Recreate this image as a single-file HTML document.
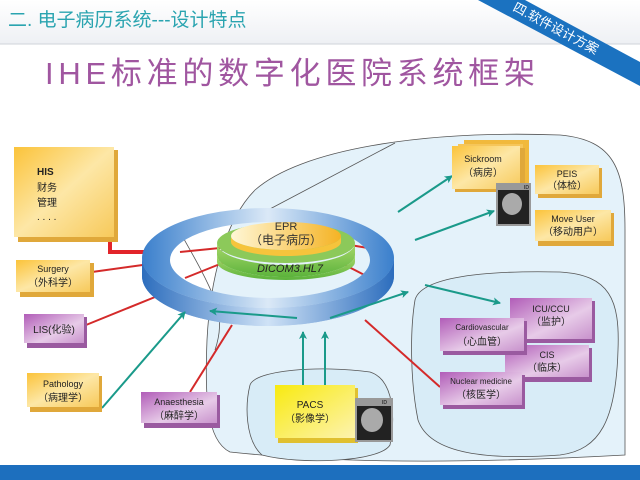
<!DOCTYPE html>
<html><head><meta charset="utf-8"><style>
html,body{margin:0;padding:0;width:640px;height:480px;overflow:hidden;background:#fff}
text{font-family:"Liberation Sans","Noto Sans CJK SC",sans-serif}
</style></head><body>
<svg width="640" height="480" viewBox="0 0 640 480" xmlns="http://www.w3.org/2000/svg">
<defs>
<linearGradient id="hdr" x1="0" y1="0" x2="0" y2="1"><stop offset="0" stop-color="#fff"/><stop offset="1" stop-color="#eef0f4"/></linearGradient>
<linearGradient id="yel" x1="0" y1="0" x2="1" y2="1"><stop offset="0" stop-color="#fbc33a"/><stop offset="0.5" stop-color="#fde7a6"/><stop offset="1" stop-color="#f7c95a"/></linearGradient>
<linearGradient id="pur" x1="0" y1="0" x2="1" y2="1"><stop offset="0" stop-color="#b15db8"/><stop offset="0.6" stop-color="#e7cbe8"/><stop offset="1" stop-color="#c892cc"/></linearGradient>
<linearGradient id="pacs" x1="0" y1="0" x2="1" y2="1"><stop offset="0" stop-color="#f8ea10"/><stop offset="1" stop-color="#fdf3b0"/></linearGradient>
<linearGradient id="ring" x1="0" y1="0" x2="1" y2="0"><stop offset="0" stop-color="#3a7fcc"/><stop offset="0.5" stop-color="#dbe9f7"/><stop offset="1" stop-color="#3a7fcc"/></linearGradient>
<linearGradient id="ringside" x1="0" y1="0" x2="1" y2="0"><stop offset="0" stop-color="#2c6dbd"/><stop offset="0.5" stop-color="#cfe2f6"/><stop offset="1" stop-color="#2c6dbd"/></linearGradient>
<linearGradient id="grn" x1="0" y1="0" x2="0" y2="1"><stop offset="0" stop-color="#a8d86a"/><stop offset="1" stop-color="#5cb33c"/></linearGradient>
<linearGradient id="yt" x1="0" y1="0" x2="1" y2="0"><stop offset="0" stop-color="#fff7d6"/><stop offset="1" stop-color="#f5b324"/></linearGradient>
<marker id="ar" markerWidth="8" markerHeight="8" refX="7" refY="4" orient="auto" markerUnits="userSpaceOnUse"><path d="M0,0 L8,4 L0,8 L2,4 z" fill="#1a9a8a"/></marker>
</defs>
<rect width="640" height="44" fill="url(#hdr)"/>
<line x1="0" y1="44" x2="640" y2="44" stroke="#cfd3da"/>
<text x="8" y="26" font-size="19" fill="#2aa4b0">二. 电子病历系统---设计特点</text>
<polygon points="478,0 525,0 640,62 640,86" fill="#1b72c0"/>
<text x="0" y="0" font-size="13" fill="#fff" transform="translate(512,10) rotate(28)">四.软件设计方案</text>
<text x="45" y="84" font-size="31" fill="#a056a0" textLength="490" lengthAdjust="spacing">IHE标准的数字化医院系统框架</text>

<!-- background regions -->
<path d="M255,190 C300,150 420,130 560,135 C615,140 625,170 625,230 L625,455 C500,462 350,465 230,452 C205,440 205,390 207,340 C210,280 225,220 255,190 Z" fill="#e4f2fa" stroke="#555" stroke-width="0.8"/>
<path d="M415,300 C420,280 470,270 560,272 C610,275 620,300 618,350 C616,420 600,450 560,455 C490,460 430,455 418,420 C410,380 410,330 415,300 Z" fill="#d8ecf7" stroke="#555" stroke-width="0.8"/>
<path d="M250,385 C255,370 320,365 370,372 C395,380 395,420 390,445 C380,462 300,465 262,455 C245,440 245,405 250,385 Z" fill="#d8ecf7" stroke="#555" stroke-width="0.8"/>
<path d="M180,232 C190,250 205,275 215,300 C222,320 220,335 215,350" fill="none" stroke="#555" stroke-width="0.8"/>
<line x1="268" y1="210" x2="395" y2="143" stroke="#555" stroke-width="0.8"/>

<!-- red lines -->
<path d="M110,240 L110,252 L150,252" fill="none" stroke="#e2242a" stroke-width="4"/>
<g stroke="#d42a2a" stroke-width="2" fill="none">
<line x1="92" y1="272" x2="150" y2="264"/>
<line x1="86" y1="325" x2="160" y2="295"/>
<line x1="190" y1="392" x2="232" y2="325"/>
<line x1="440" y1="387" x2="365" y2="320"/>
<line x1="180" y1="252" x2="220" y2="248"/>
<line x1="185" y1="278" x2="225" y2="262"/>
<line x1="350" y1="245" x2="380" y2="250"/>
<line x1="345" y1="265" x2="378" y2="282"/>
</g>

<!-- ring -->
<path d="M142,258 A126,50 0 0 0 394,258 L394,276 A126,50 0 0 1 142,276 Z" fill="url(#ringside)"/>
<path d="M142,258 A126,50 0 1 1 394,258 A126,50 0 1 1 142,258 Z M170,260 A100,38 0 1 0 370,260 A100,38 0 1 0 170,260 Z" fill="url(#ring)" fill-rule="evenodd"/>
<path d="M142,258 A126,50 0 0 0 394,258 L394,276 A126,50 0 0 1 142,276 Z" fill="url(#ringside)" opacity="0.9"/>

<!-- EPR disc -->
<path d="M217,243 A69,22 0 0 0 355,243 L355,255 A69,22 0 0 1 217,255 Z" fill="url(#grn)"/>
<path d="M217,255 A69,22 0 0 0 355,255 L355,262 A69,18 0 0 1 217,262 Z" fill="url(#grn)"/>
<ellipse cx="286" cy="243" rx="69" ry="20" fill="#8cc95a"/>
<path d="M231,236 A55,14 0 0 0 341,236 L341,242 A55,14 0 0 1 231,242 Z" fill="#f6c43c"/>
<ellipse cx="286" cy="236" rx="55" ry="14" fill="url(#yt)"/>
<text x="286" y="230" font-size="11" text-anchor="middle" fill="#333">EPR</text>
<text x="286" y="244" font-size="12" text-anchor="middle" fill="#333">（电子病历）</text>
<text x="290" y="272" font-size="11" text-anchor="middle" fill="#222" font-style="italic">DICOM3.HL7</text>

<!-- teal arrows -->
<g stroke="#1a9a8a" stroke-width="2" fill="none" marker-end="url(#ar)">
<line x1="102" y1="408" x2="185" y2="312"/>
<line x1="398" y1="212" x2="452" y2="176"/>
<line x1="415" y1="240" x2="494" y2="211"/>
<line x1="425" y1="285" x2="500" y2="303"/>
<line x1="303" y1="385" x2="303" y2="332"/>
<line x1="325" y1="385" x2="325" y2="332"/>
<line x1="297" y1="318" x2="210" y2="311"/>
<line x1="330" y1="318" x2="408" y2="292"/>
</g>

<!-- boxes -->
<g stroke="none">
<rect x="18" y="150" width="100" height="92" fill="#e0a83a"/><rect x="14" y="147" width="100" height="90" fill="url(#yel)"/>
<rect x="20" y="263" width="74" height="34" fill="#e0a83a"/><rect x="16" y="260" width="74" height="32" fill="url(#yel)"/>
<rect x="27" y="317" width="60" height="31" fill="#9a5aa0"/><rect x="24" y="314" width="60" height="29" fill="url(#pur)"/>
<rect x="30" y="376" width="72" height="36" fill="#e0a83a"/><rect x="27" y="373" width="72" height="34" fill="url(#yel)"/>
<rect x="144" y="395" width="76" height="33" fill="#9a5aa0"/><rect x="141" y="392" width="76" height="31" fill="url(#pur)"/>
<rect x="278" y="388" width="80" height="55" fill="#e0c030"/><rect x="275" y="385" width="80" height="53" fill="url(#pacs)"/>
<rect x="464" y="140" width="65" height="45" fill="#f1b93c"/><rect x="458" y="144" width="65" height="45" fill="#f6c65a"/>
<rect x="455" y="148" width="70" height="44" fill="#e0a83a"/><rect x="452" y="146" width="68" height="43" fill="url(#yel)"/>
<rect x="538" y="168" width="64" height="30" fill="#e0a83a"/><rect x="535" y="165" width="64" height="29" fill="url(#yel)"/>
<rect x="538" y="213" width="76" height="33" fill="#e0a83a"/><rect x="535" y="210" width="76" height="31" fill="url(#yel)"/>
<rect x="513" y="301" width="82" height="42" fill="#9a5aa0"/><rect x="510" y="298" width="82" height="41" fill="url(#pur)"/>
<rect x="508" y="348" width="84" height="34" fill="#9a5aa0"/><rect x="505" y="345" width="84" height="32" fill="url(#pur)"/>
<rect x="443" y="321" width="84" height="34" fill="#9a5aa0"/><rect x="440" y="318" width="84" height="33" fill="url(#pur)"/>
<rect x="443" y="375" width="82" height="34" fill="#9a5aa0"/><rect x="440" y="372" width="82" height="33" fill="url(#pur)"/>
</g>
<!-- images -->
<rect x="496" y="183" width="35" height="43" fill="#999"/><rect x="498" y="190" width="31" height="34" fill="#222"/><ellipse cx="512" cy="204" rx="10" ry="11" fill="#aaa"/>
<text x="524" y="189" font-size="5" fill="#000">ID</text>
<rect x="355" y="398" width="38" height="44" fill="#999"/><rect x="357" y="406" width="34" height="34" fill="#222"/><ellipse cx="372" cy="420" rx="11" ry="12" fill="#aaa"/>
<text x="382" y="404" font-size="5" fill="#000">ID</text>

<g font-size="9" fill="#222" text-anchor="middle">
<text x="37" y="175" font-size="10" font-weight="bold" text-anchor="start">HIS</text>
<text x="37" y="191" font-size="10" text-anchor="start">财务</text>
<text x="37" y="206" font-size="10" text-anchor="start">管理</text>
<text x="37" y="220" font-size="10" text-anchor="start">. . . .</text>
<text x="53" y="272">Surgery</text><text x="53" y="286" font-size="10">（外科学）</text>
<text x="54" y="333" font-size="10">LIS(化验)</text>
<text x="63" y="387">Pathology</text><text x="63" y="401" font-size="10">（病理学）</text>
<text x="179" y="405">Anaesthesia</text><text x="179" y="419" font-size="10">（麻醉学）</text>
<text x="310" y="408" font-size="10">PACS</text><text x="310" y="422" font-size="10">（影像学）</text>
<text x="483" y="162">Sickroom</text><text x="483" y="176" font-size="10">（病房）</text>
<text x="567" y="177">PEIS</text><text x="567" y="189" font-size="10">（体检）</text>
<text x="573" y="222">Move User</text><text x="573" y="235" font-size="10">（移动用户）</text>
<text x="551" y="312">ICU/CCU</text><text x="551" y="325" font-size="10">（监护）</text>
<text x="482" y="330" font-size="8">Cardiovascular</text><text x="482" y="345" font-size="10">（心血管）</text>
<text x="547" y="358">CIS</text><text x="547" y="371" font-size="10">（临床）</text>
<text x="481" y="384" font-size="8">Nuclear medicine</text><text x="481" y="398" font-size="10">（核医学）</text>
</g>

<rect x="0" y="465" width="640" height="15" fill="#1d6fbe"/>
</svg>
</body></html>
